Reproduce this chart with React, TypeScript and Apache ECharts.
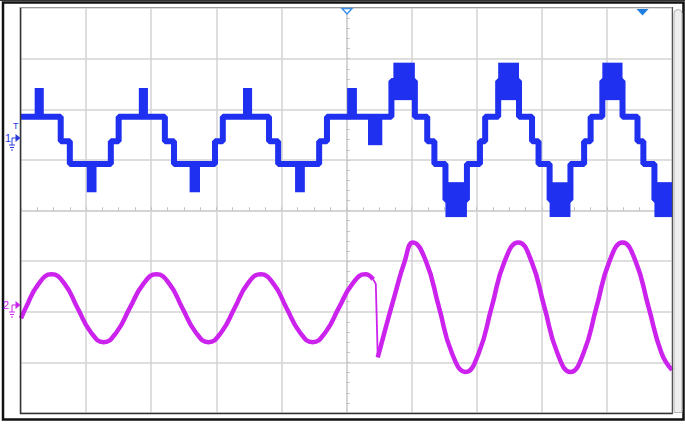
import React, { useEffect, useRef } from "react";
import * as echarts from "echarts";

// Channel 1 (blue staircase) — time in divisions, value in divisions
const ch1T = [-5.0, -4.39, -4.39, -4.25, -4.25, -3.62, -3.62, -3.5, -3.5, -2.79, -2.79, -2.65, -2.65, -2.02, -2.02, -1.9, -1.9, -1.19, -1.19, -1.05, -1.05, -0.42, -0.42, -0.3, -0.3, 0.69, 0.69, 1.05, 1.05, 1.24, 1.24, 1.35, 1.35, 1.52, 1.52, 1.85, 1.85, 2.05, 2.05, 2.13, 2.13, 2.33, 2.33, 2.65, 2.65, 2.85, 2.85, 2.95, 2.95, 3.12, 3.12, 3.44, 3.44, 3.65, 3.65, 3.75, 3.75, 3.93, 3.93, 4.24, 4.24, 4.47, 4.47, 4.56, 4.56, 4.73, 4.73, 5.0];
const ch1V = [1.85, 1.85, 1.37, 1.37, 0.92, 0.92, 1.37, 1.37, 1.85, 1.85, 1.37, 1.37, 0.92, 0.92, 1.37, 1.37, 1.85, 1.85, 1.37, 1.37, 0.92, 0.92, 1.37, 1.37, 1.85, 1.85, 2.56, 2.56, 1.85, 1.85, 1.37, 1.37, 0.92, 0.92, 0.21, 0.21, 0.92, 0.92, 1.37, 1.37, 1.85, 1.85, 2.56, 2.56, 1.85, 1.85, 1.37, 1.37, 0.92, 0.92, 0.21, 0.21, 0.92, 0.92, 1.37, 1.37, 1.85, 1.85, 2.56, 2.56, 1.85, 1.85, 1.37, 1.37, 0.92, 0.92, 0.21, 0.21];

// Channel 1 noisy blocks (spikes / switching bursts)
const ch1BlockStart = [-4.79, -3.19, -1.59, 0.01, -3.99, -2.41, -0.79, 0.33, 0.72, 2.33, 3.93, 1.52, 3.12, 4.73];
const ch1BlockEnd = [-4.65, -3.05, -1.45, 0.16, -3.84, -2.25, -0.64, 0.55, 1.05, 2.65, 4.24, 1.85, 3.44, 5.0];
const ch1BlockTop = [2.42, 2.42, 2.42, 2.42, 0.92, 0.92, 0.92, 1.85, 2.92, 2.92, 2.92, 0.56, 0.56, 0.56];
const ch1BlockBottom = [1.85, 1.85, 1.85, 1.85, 0.36, 0.36, 0.36, 1.29, 2.18, 2.18, 2.18, -0.13, -0.13, -0.13];

// Channel 2 (magenta) — before the step, the step itself, after the step
const ch2aT = [-5.0, -4.93, -4.73, -4.53, -4.33, -4.13, -3.93, -3.73, -3.53, -3.33, -3.12, -2.92, -2.72, -2.52, -2.32, -2.12, -1.92, -1.72, -1.52, -1.32, -1.12, -0.92, -0.72, -0.52, -0.32, -0.12, 0.09, 0.29, 0.41];
const ch2aV = [-2.13, -1.93, -1.45, -1.26, -1.45, -1.93, -2.4, -2.6, -2.4, -1.93, -1.45, -1.26, -1.45, -1.93, -2.4, -2.6, -2.4, -1.93, -1.45, -1.26, -1.45, -1.93, -2.4, -2.6, -2.4, -1.93, -1.45, -1.26, -1.36];
const ch2bT = [0.41, 0.45, 0.48];
const ch2bV = [-1.36, -1.45, -2.9];
const ch2cT = [0.48, 0.61, 0.75, 0.89, 1.02, 1.22, 1.42, 1.62, 1.83, 2.03, 2.23, 2.43, 2.64, 2.84, 3.04, 3.24, 3.44, 3.64, 3.84, 4.04, 4.24, 4.44, 4.64, 4.84, 5.0];
const ch2cV = [-2.9, -2.28, -1.63, -1.02, -0.63, -1.0, -1.91, -2.82, -3.19, -2.82, -1.91, -1.0, -0.63, -1.0, -1.91, -2.82, -3.19, -2.82, -1.91, -1.0, -0.63, -1.0, -1.91, -2.82, -3.15];

const BLUE = "#1f30f0";
const MAG = "#cc22ee";
const GRID = "#d3d3d3";
const TICK = "#c2c2c2";

const zip = (a: number[], b: number[]) => a.map((x, i) => [x, b[i]]);

export default function App() {
  const ref = useRef<HTMLDivElement>(null);
  useEffect(() => {
    if (!ref.current) return;
    const chart = echarts.init(ref.current, null, { renderer: "svg" });
    const xBase = (inside: boolean, split: boolean) => ({
      type: "value",
      min: -5,
      max: 5,
      interval: 1,
      axisLabel: { show: false },
      splitLine: { show: split, lineStyle: { color: GRID, width: 1.5 } },
      axisLine: { show: true, onZero: true, lineStyle: { color: GRID, width: 1.5 } },
      axisTick: { show: true, inside, length: 3, lineStyle: { color: TICK, width: 1 } },
      minorTick: { show: true, splitNumber: 4, length: 3, lineStyle: { color: TICK, width: 1 } },
    });
    const yBase = (inside: boolean, split: boolean) => ({
      type: "value",
      min: -4,
      max: 4,
      interval: 1,
      axisLabel: { show: false },
      splitLine: { show: split, lineStyle: { color: GRID, width: 1.5 } },
      axisLine: { show: true, onZero: true, lineStyle: { color: GRID, width: 1.5 } },
      axisTick: { show: true, inside, length: 3, lineStyle: { color: TICK, width: 1 } },
      minorTick: { show: true, splitNumber: 5, length: 3, lineStyle: { color: TICK, width: 1 } },
    });
    const blocks = ch1BlockStart.map((s, i) => [s, ch1BlockEnd[i], ch1BlockTop[i], ch1BlockBottom[i]]);
    chart.setOption({
      animation: false,
      backgroundColor: "#ffffff",
      grid: { left: 21, top: 8, width: 651, height: 405 },
      xAxis: [xBase(true, true), xBase(false, false)],
      yAxis: [yBase(true, true), yBase(false, false)],
      series: [
        {
          type: "line",
          data: zip(ch1T, ch1V),
          showSymbol: false,
          lineStyle: { color: BLUE, width: 6 },
          itemStyle: { color: BLUE },
          z: 3,
        },
        {
          type: "custom",
          data: blocks,
          encode: { x: [0, 1], y: [2, 3] },
          z: 4,
          renderItem: (params: any, api: any) => {
            const p0 = api.coord([api.value(0), api.value(2)]);
            const p1 = api.coord([api.value(1), api.value(3)]);
            return {
              type: "rect",
              shape: { x: p0[0], y: p0[1], width: p1[0] - p0[0], height: p1[1] - p0[1] },
              style: { fill: BLUE },
            };
          },
        },
        {
          type: "line",
          data: zip(ch2aT, ch2aV),
          showSymbol: false,
          smooth: 0.5,
          lineStyle: { color: MAG, width: 4.5 },
          itemStyle: { color: MAG },
          z: 3,
        },
        {
          type: "line",
          data: zip(ch2bT, ch2bV),
          showSymbol: false,
          lineStyle: { color: MAG, width: 1.8 },
          itemStyle: { color: MAG },
          z: 3,
        },
        {
          type: "line",
          data: zip(ch2cT, ch2cV),
          showSymbol: false,
          smooth: 0.5,
          lineStyle: { color: MAG, width: 4.5 },
          itemStyle: { color: MAG },
          z: 3,
        },
      ],
      graphic: [
        // outer frame
        { type: "rect", shape: { x: 3, y: 2.5, width: 680.5, height: 417 }, style: { fill: "none", stroke: "#111", lineWidth: 2.5 }, z: 100 },
        { type: "line", shape: { x1: 0, y1: 0.5, x2: 685, y2: 0.5 }, style: { stroke: "#333", lineWidth: 1 }, z: 100 },
        // plot frame
        { type: "line", shape: { x1: 20.5, y1: 7, x2: 20.5, y2: 414 }, style: { stroke: "#333", lineWidth: 1.5 }, z: 100 },
        { type: "line", shape: { x1: 20, y1: 413.5, x2: 673, y2: 413.5 }, style: { stroke: "#333", lineWidth: 1.5 }, z: 100 },
        { type: "line", shape: { x1: 20, y1: 7.5, x2: 673, y2: 7.5 }, style: { stroke: "#9a9a9a", lineWidth: 1 }, z: 100 },
        { type: "line", shape: { x1: 672.5, y1: 7, x2: 672.5, y2: 414 }, style: { stroke: "#555", lineWidth: 1.2 }, z: 100 },
        // right strip
        { type: "rect", shape: { x: 674, y: 9.5, width: 8, height: 403, r: [4, 4, 0, 0] }, style: { fill: "#eeeeee", stroke: "#b5b5b5", lineWidth: 1 }, z: 100 },
        // top markers
        { type: "polygon", shape: { points: [[342, 8.5], [352, 8.5], [347, 14]] }, style: { fill: "#ffffff", stroke: "#3a90e8", lineWidth: 1.5 }, z: 101 },
        { type: "polygon", shape: { points: [[636.5, 9], [648.5, 9], [642.5, 15.5]] }, style: { fill: "#1e7fe0" }, z: 101 },
        // channel 1 marker
        { type: "text", x: 5, y: 132, style: { text: "1", fontSize: 11, fontFamily: "Liberation Sans, Arial, sans-serif", fill: "#2a3ad8" }, z: 101 },
        { type: "text", x: 13, y: 121, style: { text: "T", fontSize: 9, fontFamily: "Liberation Sans, Arial, sans-serif", fill: "#2a3ad8" }, z: 101 },
        { type: "polygon", shape: { points: [[15.5, 134], [15.5, 142], [20.5, 138]] }, style: { fill: "#2a3ad8" }, z: 101 },
        { type: "polyline", shape: { points: [[16, 138], [12, 138], [12, 145]] }, style: { stroke: "#2a3ad8", lineWidth: 1, fill: "none" }, z: 101 },
        { type: "line", shape: { x1: 9, y1: 145, x2: 15, y2: 145 }, style: { stroke: "#2a3ad8", lineWidth: 1 }, z: 101 },
        { type: "line", shape: { x1: 10, y1: 147.5, x2: 14, y2: 147.5 }, style: { stroke: "#2a3ad8", lineWidth: 1 }, z: 101 },
        { type: "line", shape: { x1: 11, y1: 150, x2: 13, y2: 150 }, style: { stroke: "#2a3ad8", lineWidth: 1 }, z: 101 },
        // channel 2 marker
        { type: "text", x: 3, y: 299, style: { text: "2", fontSize: 11, fontFamily: "Liberation Sans, Arial, sans-serif", fill: MAG }, z: 101 },
        { type: "polygon", shape: { points: [[15.5, 301], [15.5, 309], [20.5, 305]] }, style: { fill: MAG }, z: 101 },
        { type: "polyline", shape: { points: [[16, 305], [12, 305], [12, 312]] }, style: { stroke: MAG, lineWidth: 1, fill: "none" }, z: 101 },
        { type: "line", shape: { x1: 9, y1: 312, x2: 15, y2: 312 }, style: { stroke: MAG, lineWidth: 1 }, z: 101 },
        { type: "line", shape: { x1: 10, y1: 314.5, x2: 14, y2: 314.5 }, style: { stroke: MAG, lineWidth: 1 }, z: 101 },
        { type: "line", shape: { x1: 11, y1: 317, x2: 13, y2: 317 }, style: { stroke: MAG, lineWidth: 1 }, z: 101 },
      ],
    });
    return () => chart.dispose();
  }, []);
  return (
    <div
      ref={ref}
      style={{ position: "absolute", left: 0, top: 0, width: 685, height: 424, background: "#fff" }}
    />
  );
}
